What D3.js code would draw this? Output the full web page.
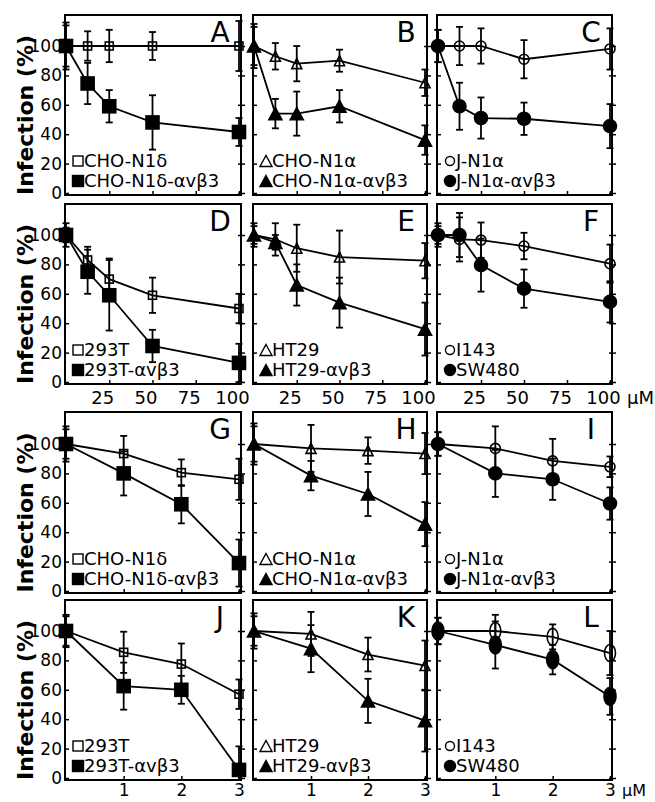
<!DOCTYPE html>
<html>
<head>
<meta charset="utf-8">
<script src="https://cdn.jsdelivr.net/npm/d3@7"></script>
<style>
  body { margin: 0; background: #fff; }
</style>
</head>
<body>
<script>
// doses (uM) for the two halves of the figure
const doseHigh = [0, 12.5, 25, 50, 100];
const doseLow = [0, 1, 2, 3];
const tickHigh = [25, 50, 75, 100];
const tickLow = [1, 2, 3];
const yTicks = [0, 20, 40, 60, 80, 100];

const letters = ["A", "B", "C", "D", "E", "F", "G", "H", "I", "J", "K", "L"];
const openNames = ["CHO-N1δ", "CHO-N1α", "J-N1α", "293T", "HT29", "I143"];
const fillNames = ["CHO-N1δ-αvβ3", "CHO-N1α-αvβ3", "J-N1α-αvβ3", "293T-αvβ3", "HT29-αvβ3", "SW480"];

// infection (%) per panel, A..L
const openMean = [
  [100, 100, 100, 100, 100],
  [100, 93, 88, 90, 75],
  [100, 100, 100, 91, 98],
  [100, 83, 70, 59, 50],
  [100, 97, 91, 85, 82.5],
  [100, 97, 96.5, 92.5, 80.5],
  [100, 93.5, 80.5, 76],
  [100, 97, 95.5, 93.5],
  [100, 97, 88.5, 84.5],
  [100, 85.5, 77.5, 57],
  [100, 98, 84, 76.5],
  [100, 100, 96, 85]
];
const openErr = [
  [16, 10, 11, 9.5, 17],
  [15, 9, 12, 7.5, 9],
  [11, 13, 12, 13, 14],
  [8, 9, 14, 12, 10],
  [8, 11, 16, 18, 12],
  [8, 15, 12, 9, 13],
  [12, 12, 9, 14],
  [14, 16, 9, 14],
  [8, 15, 15, 7],
  [11, 14, 14, 10],
  [12, 15, 11.5, 17],
  [9, 11, 8.5, 15]
];
const fillMean = [
  [100, 74.5, 59, 48, 41.5],
  [100, 54, 54, 59, 36],
  [100, 59, 51, 50.5, 45.5],
  [100, 75, 59, 24.5, 13],
  [100, 95, 66, 54, 36],
  [100, 100, 79.5, 63.5, 54.5],
  [100, 80, 59, 19],
  [100, 78.5, 66, 45.5],
  [100, 80, 76, 59.5],
  [100, 62.5, 60, 5.5],
  [100, 88, 52.5, 39],
  [100, 90.5, 80.5, 55.5]
];
const fillErr = [
  [14, 14, 11, 18.5, 9.5],
  [13, 10, 15, 11, 10],
  [11, 16, 14, 11, 15],
  [5, 15, 24, 11, 13],
  [6, 5, 14, 17, 18],
  [6, 15, 18, 13, 14],
  [10, 15, 13, 16],
  [12, 10, 15, 15],
  [8, 16, 14, 11],
  [10, 16, 9.5, 16],
  [10, 16, 15, 21],
  [9, 16, 10, 12.5]
];

const colX = [[65, 241], [253, 427], [437, 612]];
const rowY = [[15, 195], [204, 384], [412, 593], [600, 780]];
const FONT = "'DejaVu Sans', sans-serif";

const svg = d3.select("body").append("svg")
  .attr("width", 655)
  .attr("height", 802)
  .style("font-family", FONT);

// marker drawing, shape depends on the column
function marker(g, shape, cx, cy, filled, tall) {
  if (shape === "square") {
    const s = filled ? 13 : 8;
    g.append("rect")
      .attr("x", cx - s / 2).attr("y", cy - s / 2)
      .attr("width", s).attr("height", s)
      .style("fill", filled ? "#000" : "none")
      .style("stroke", "#000").style("stroke-width", 1.6);
  } else if (shape === "triangle") {
    const w = filled ? 13 : 10, h = filled ? 12 : 10;
    g.append("path")
      .attr("d", `M${cx},${cy - h / 2}L${cx + w / 2},${cy + h / 2}L${cx - w / 2},${cy + h / 2}Z`)
      .style("fill", filled ? "#000" : "none")
      .style("stroke", "#000").style("stroke-width", 1.6);
  } else {
    const rx = filled ? (tall ? 6 : 6.5) : (tall ? 5.5 : 5);
    const ry = filled ? (tall ? 9 : 6.5) : (tall ? 8.5 : 5);
    g.append("ellipse")
      .attr("cx", cx).attr("cy", cy).attr("rx", rx).attr("ry", ry)
      .style("fill", filled ? "#000" : "none")
      .style("stroke", "#000").style("stroke-width", 1.6);
  }
}

const shapes = ["square", "triangle", "circle"];

letters.forEach((letter, i) => {
  const r = Math.floor(i / 3), c = i % 3;
  const [x0, x1] = colX[c];
  const [y0, y1] = rowY[r];
  const dose = r < 2 ? doseHigh : doseLow;
  const x = d3.scaleLinear().domain([0, r < 2 ? 100 : 3]).range([x0 + 1, x1 - 2]);
  const y = d3.scaleLinear().domain([0, 100]).range([y1 - 2, y1 - 149]);
  const g = svg.append("g");
  const shape = shapes[c];
  const tall = (i === 11);

  // left axis
  const left = g.append("g")
    .attr("transform", `translate(${x0},0)`)
    .call(d3.axisLeft(y).tickValues(yTicks).tickSizeInner(-4).tickSizeOuter(0).tickPadding(3)
      .tickFormat(c === 0 ? d3.format("d") : () => ""));
  left.select(".domain").remove();
  left.selectAll("line").style("stroke-width", 1.5);
  left.selectAll("text").style("font-size", "17px").style("font-family", FONT).attr("fill", "#000");

  // right axis
  const right = g.append("g")
    .attr("transform", `translate(${x1},0)`)
    .call(d3.axisRight(y).tickValues(yTicks).tickSizeInner(4).tickSizeOuter(0).tickFormat(() => ""));
  right.select(".domain").remove();
  right.selectAll("line").attr("x1", -3).style("stroke-width", 1.5);

  // bottom axis
  const showX = (r === 1 || r === 3);
  const bottom = g.append("g")
    .attr("transform", `translate(0,${y1})`)
    .call(d3.axisBottom(x).tickValues(r < 2 ? tickHigh : tickLow)
      .tickSizeInner(-4).tickSizeOuter(0).tickPadding(r < 2 ? 7 : 4)
      .tickFormat(showX ? d3.format("d") : () => ""));
  bottom.select(".domain").remove();
  bottom.selectAll("line").style("stroke-width", 1.5);
  bottom.selectAll("text")
    .style("font-size", r < 2 ? "18px" : "17px").style("font-family", FONT).attr("fill", "#000")
    .attr("dx", r === 1 ? -7 : 0);

  if (showX && c === 2) {
    g.append("text")
      .attr("x", x1 + (r === 1 ? 15 : 10))
      .attr("y", r === 1 ? y1 + 20 : y1 + 16)
      .style("font-size", r === 1 ? "18px" : "16px")
      .text("μM");
  }

  // frame
  g.append("rect")
    .attr("x", x0).attr("y", y0)
    .attr("width", x1 - x0).attr("height", y1 - y0)
    .style("fill", "none").style("stroke", "#000").style("stroke-width", 2);

  // connecting lines
  const line = d3.line().x((d, k) => x(dose[k])).y(d => y(d));
  [openMean[i], fillMean[i]].forEach(vals => {
    g.append("path").attr("d", line(vals))
      .style("fill", "none").style("stroke", "#000").style("stroke-width", 1.8);
  });

  // error bars, kept inside the frame
  const lo = -1, hi = 120;
  [[openMean[i], openErr[i]], [fillMean[i], fillErr[i]]].forEach(([m, e]) => {
    m.forEach((v, k) => {
      const px = x(dose[k]);
      const a = Math.max(lo, v - e[k]), b = Math.min(hi, v + e[k]);
      g.append("line")
        .attr("x1", px).attr("x2", px)
        .attr("y1", y(a)).attr("y2", y(b))
        .style("stroke", "#000").style("stroke-width", 1.8);
      [v - e[k], v + e[k]].filter(t => t >= lo && t <= hi).forEach(t => {
        g.append("line")
          .attr("x1", px - 3.5).attr("x2", px + 3.5)
          .attr("y1", y(t)).attr("y2", y(t))
          .style("stroke", "#000").style("stroke-width", 1.8);
      });
    });
  });

  // markers
  openMean[i].forEach((v, k) => marker(g, shape, x(dose[k]), y(v), false, tall));
  fillMean[i].forEach((v, k) => marker(g, shape, x(dose[k]), y(v), true, tall));

  // panel letter
  g.append("text")
    .attr("x", x1 - 21)
    .attr("y", y0 + 27)
    .attr("text-anchor", "middle")
    .style("font-size", "28px")
    .text(letter);

  // legend
  const li = (r % 2) * 3 + c;
  [[openNames[li], false, y1 - 28], [fillNames[li], true, y1 - 8]].forEach(([name, filled, by]) => {
    const sx = x0 + 13, sy = by - 6;
    if (shape === "square") {
      const s = filled ? 11 : 10;
      g.append("rect").attr("x", sx - s / 2).attr("y", sy - s / 2).attr("width", s).attr("height", s)
        .style("fill", filled ? "#000" : "none").style("stroke", "#000").style("stroke-width", 1.4);
    } else if (shape === "triangle") {
      g.append("path").attr("d", `M${sx},${sy - 5.5}L${sx + 6},${sy + 5.5}L${sx - 6},${sy + 5.5}Z`)
        .style("fill", filled ? "#000" : "none").style("stroke", "#000").style("stroke-width", 1.4);
    } else {
      g.append("circle").attr("cx", sx).attr("cy", sy).attr("r", filled ? 5.5 : 4.5)
        .style("fill", filled ? "#000" : "none").style("stroke", "#000").style("stroke-width", 1.4);
    }
    g.append("text")
      .attr("x", x0 + 19)
      .attr("y", by)
      .style("font-size", "18px")
      .text(name);
  });

  // y title on the left column
  if (c === 0) {
    g.append("text")
      .attr("transform", `translate(33,${(y0 + y1) / 2 + 10}) rotate(-90)`)
      .attr("text-anchor", "middle")
      .style("font-size", "22px")
      .style("font-weight", "bold")
      .text("Infection (%)");
  }
});
</script>
</body>
</html>
